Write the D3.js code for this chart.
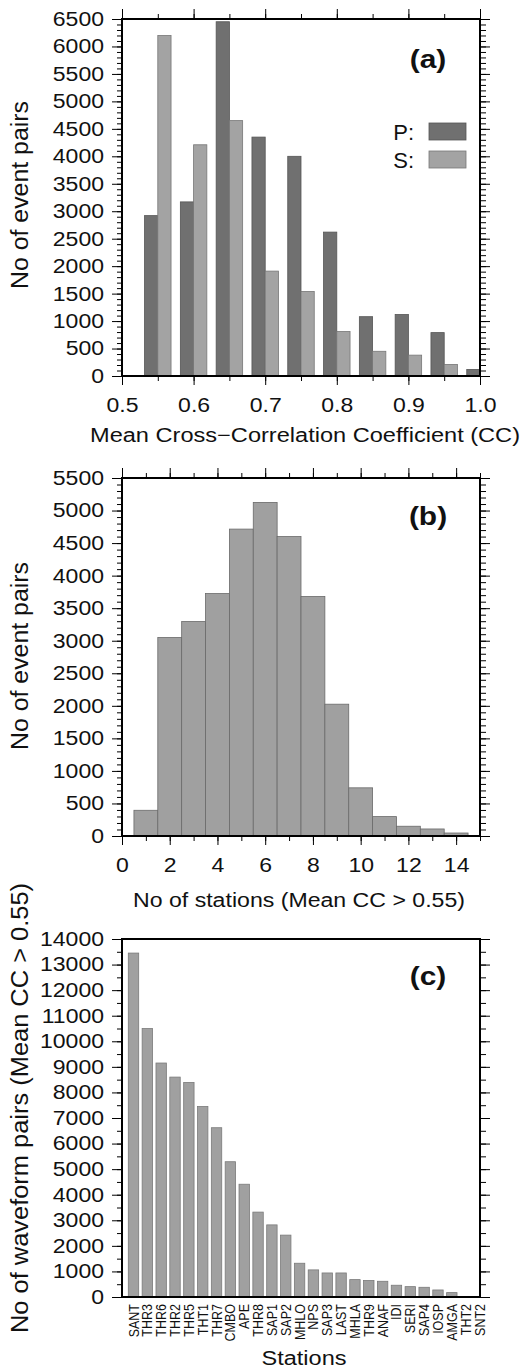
<!DOCTYPE html>
<html>
<head>
<meta charset="utf-8">
<script src="https://cdnjs.cloudflare.com/ajax/libs/d3/7.8.5/d3.min.js"></script>
<style>
body { margin: 0; background: #fff; }
text { font-family: "Liberation Sans", Arial, Helvetica, sans-serif; fill: #111; }
</style>
</head>
<body>
<script>
// (a) mean CC histogram, P and S side by side
var ccBins = [0.55, 0.60, 0.65, 0.70, 0.75, 0.80, 0.85, 0.90, 0.95, 1.00];
var pPairs = [2920, 3170, 6450, 4350, 4000, 2620, 1080, 1120, 790, 120];
var sPairs = [6200, 4210, 4650, 1910, 1540, 810, 450, 380, 210, 0];
var ccTicks = [0.5, 0.6, 0.7, 0.8, 0.9, 1.0];
var pairTicksA = [0, 500, 1000, 1500, 2000, 2500, 3000, 3500, 4000, 4500, 5000, 5500, 6000, 6500];

// (b) number of stations per event pair
var nStations = [1, 2, 3, 4, 5, 6, 7, 8, 9, 10, 11, 12, 13, 14];
var stationPairs = [395, 3050, 3295, 3725, 4715, 5125, 4600, 3680, 2025, 740, 298, 150, 108, 46];
var nTicks = [0, 2, 4, 6, 8, 10, 12, 14];
var pairTicksB = [0, 500, 1000, 1500, 2000, 2500, 3000, 3500, 4000, 4500, 5000, 5500];

// (c) waveform pairs per station
var stations = ["SANT", "THR3", "THR6", "THR2", "THR5", "THT1", "THR7", "CMBO", "APE", "THR8",
  "SAP1", "SAP2", "MHLO", "NPS", "SAP3", "LAST", "MHLA", "THR9", "ANAF", "IDI",
  "SERI", "SAP4", "IOSP", "AMGA", "THT2", "SNT2"];
var waveformPairs = [13450, 10500, 9150, 8600, 8390, 7450, 6620, 5290, 4410, 3320,
  2820, 2420, 1320, 1060, 940, 940, 680, 645, 615, 460,
  405, 380, 275, 172, 0, 0];
var pairTicksC = [0, 1000, 2000, 3000, 4000, 5000, 6000, 7000, 8000, 9000, 10000, 11000, 12000, 13000, 14000];

var width = 523, height = 1371,
    left = 122, right = 480,
    stretch = 1.15;

var svg = d3.select("body").append("svg")
    .attr("width", width)
    .attr("height", height);

function fitText(sel, len) {
  sel.attr("textLength", len).attr("lengthAdjust", "spacingAndGlyphs");
}

/* left + right y axes, ticks outward, labels only on the left */
function yAxes(y, major, minor) {
  svg.append("g").attr("transform", "translate(" + left + ",0)")
    .call(d3.axisLeft(y).tickValues(minor).tickSize(5).tickFormat(""));
  svg.append("g").attr("class", "ticklab").attr("transform", "translate(" + left + ",0)")
    .call(d3.axisLeft(y).tickValues(major).tickSize(10).tickPadding(8).tickFormat(d3.format("d")));
  svg.append("g").attr("transform", "translate(" + right + ",0)")
    .call(d3.axisRight(y).tickValues(minor).tickSize(6).tickFormat(""));
  svg.append("g").attr("transform", "translate(" + right + ",0)")
    .call(d3.axisRight(y).tickValues(major).tickSize(10).tickFormat(""));
}

function xAxes(x, top, bottom, major, minor, fmt) {
  svg.append("g").attr("transform", "translate(0," + bottom + ")")
    .call(d3.axisBottom(x).tickValues(minor).tickSize(5).tickFormat(""));
  svg.append("g").attr("class", "ticklab").attr("transform", "translate(0," + bottom + ")")
    .call(d3.axisBottom(x).tickValues(major).tickSize(9).tickPadding(13).tickFormat(fmt));
  svg.append("g").attr("transform", "translate(0," + top + ")")
    .call(d3.axisTop(x).tickValues(minor).tickSize(5).tickFormat(""));
  svg.append("g").attr("transform", "translate(0," + top + ")")
    .call(d3.axisTop(x).tickValues(major).tickSize(10).tickFormat(""));
}

function frame(top, bottom) {
  svg.append("rect")
    .attr("x", left).attr("y", top)
    .attr("width", right - left).attr("height", bottom - top)
    .attr("fill", "none").attr("stroke", "#000").attr("stroke-width", 2);
}

function panelTag(txt, baseline) {
  svg.append("text").attr("class", "h")
    .attr("x", 428).attr("y", baseline)
    .attr("text-anchor", "middle")
    .attr("font-size", 26).attr("font-weight", "bold")
    .text(txt);
}

function yTitle(txt, cy, len) {
  svg.append("text")
    .attr("transform", "translate(28," + cy + ") rotate(-90)")
    .attr("text-anchor", "middle")
    .attr("font-size", 23)
    .text(txt)
    .call(fitText, len);
}

function xTitle(txt, cx, baseline, len) {
  svg.append("text")
    .attr("x", cx).attr("y", baseline)
    .attr("text-anchor", "middle")
    .attr("font-size", 20)
    .text(txt)
    .call(fitText, len);
}

// ---------- (a) ----------
var xa = d3.scaleLinear().domain([0.5, 1.0]).range([left, right]);
var ya = d3.scaleLinear().domain([0, 6500]).range([376, 19]);
var barW = 0.0185;

svg.append("g").selectAll("rect")
  .data(ccBins.map(function(b, i){ return {bin: b, v: pPairs[i]}; }))
  .enter().append("rect")
    .attr("x", function(d){ return xa(d.bin - barW); })
    .attr("width", function(d){ return xa(d.bin) - xa(d.bin - barW); })
    .attr("y", function(d){ return ya(d.v); })
    .attr("height", function(d){ return ya(0) - ya(d.v); })
    .attr("fill", "#707070").attr("stroke", "#555").attr("stroke-width", 0.8);

svg.append("g").selectAll("rect")
  .data(ccBins.map(function(b, i){ return {bin: b, v: sPairs[i]}; }).filter(function(d){ return d.v > 0; }))
  .enter().append("rect")
    .attr("x", function(d){ return xa(d.bin); })
    .attr("width", function(d){ return xa(d.bin + barW) - xa(d.bin); })
    .attr("y", function(d){ return ya(d.v); })
    .attr("height", function(d){ return ya(0) - ya(d.v); })
    .attr("fill", "#a3a3a3").attr("stroke", "#777").attr("stroke-width", 0.8);

yAxes(ya, pairTicksA, d3.range(0, 6501, 100));
xAxes(xa, 19, 376, ccTicks, d3.range(0.5, 1.001, 0.05), d3.format(".1f"));
frame(19, 376);
panelTag("(a)", 68);

// legend
var legend = [{k: "P:", c: "#707070", s: "#555", y: 123}, {k: "S:", c: "#a3a3a3", s: "#777", y: 151}];
legend.forEach(function(l) {
  svg.append("rect").attr("x", 429).attr("y", l.y).attr("width", 37).attr("height", 17)
    .attr("fill", l.c).attr("stroke", l.s).attr("stroke-width", 0.8);
  svg.append("text").attr("x", 414).attr("y", l.y + 17).attr("text-anchor", "end")
    .attr("font-size", 22).text(l.k);
});

yTitle("No of event pairs", 195, 188);
xTitle("Mean Cross\u2212Correlation Coefficient (CC)", 305, 442, 430);

// ---------- (b) ----------
var xb = d3.scaleLinear().domain([0, 15]).range([left, right]);
var yb = d3.scaleLinear().domain([0, 5500]).range([836, 478]);

svg.append("g").selectAll("rect")
  .data(nStations.map(function(n, i){ return {n: n, v: stationPairs[i]}; }))
  .enter().append("rect")
    .attr("x", function(d){ return xb(d.n - 0.5); })
    .attr("width", function(d){ return xb(d.n + 0.5) - xb(d.n - 0.5); })
    .attr("y", function(d){ return yb(d.v); })
    .attr("height", function(d){ return yb(0) - yb(d.v); })
    .attr("fill", "#a0a0a0").attr("stroke", "#6a6a6a").attr("stroke-width", 0.8);

yAxes(yb, pairTicksB, d3.range(0, 5501, 100));
xAxes(xb, 478, 836, nTicks, d3.range(0, 16, 1), d3.format("d"));
frame(478, 836);
panelTag("(b)", 525);

yTitle("No of event pairs", 656, 188);
xTitle("No of stations (Mean CC > 0.55)", 299, 907, 332);

// ---------- (c) ----------
var xc = d3.scalePoint().domain(stations).range([133.5, 479.5]);
var yc = d3.scaleLinear().domain([0, 14000]).range([1297, 939]);

svg.append("g").selectAll("rect")
  .data(stations.map(function(s, i){ return {s: s, v: waveformPairs[i]}; }).filter(function(d){ return d.v > 0; }))
  .enter().append("rect")
    .attr("x", function(d){ return xc(d.s) - 5.2; })
    .attr("width", 10.4)
    .attr("y", function(d){ return yc(d.v); })
    .attr("height", function(d){ return yc(0) - yc(d.v); })
    .attr("fill", "#a0a0a0").attr("stroke", "#7a7a7a").attr("stroke-width", 0.8);

yAxes(yc, pairTicksC, d3.range(0, 14001, 500));
frame(939, 1297);
panelTag("(c)", 985);

// station names, rotated and a bit thickened
svg.append("g").selectAll("text")
  .data(stations)
  .enter().append("text")
    .attr("transform", function(d){ return "translate(" + xc(d) + ",1304) rotate(-90) scale(1,1.15)"; })
    .attr("dy", "0.35em")
    .attr("text-anchor", "end")
    .attr("font-size", 12.5)
    .text(function(d){ return d; });

yTitle("No of waveform pairs (Mean CC > 0.55)", 1108, 450);
xTitle("Stations", 304, 1365, 85);

// axis tick labels: bigger font, widened like the original figure
svg.selectAll(".domain").remove();
svg.selectAll(".ticklab text")
  .attr("font-size", 20)
  .attr("font-family", null)
  .attr("fill", "#111");
svg.selectAll("g").attr("font-family", null).attr("font-size", null);
svg.selectAll(".ticklab text, text.h").each(function() {
  var w = this.getComputedTextLength();
  d3.select(this).call(fitText, w * stretch);
});
</script>
</body>
</html>
